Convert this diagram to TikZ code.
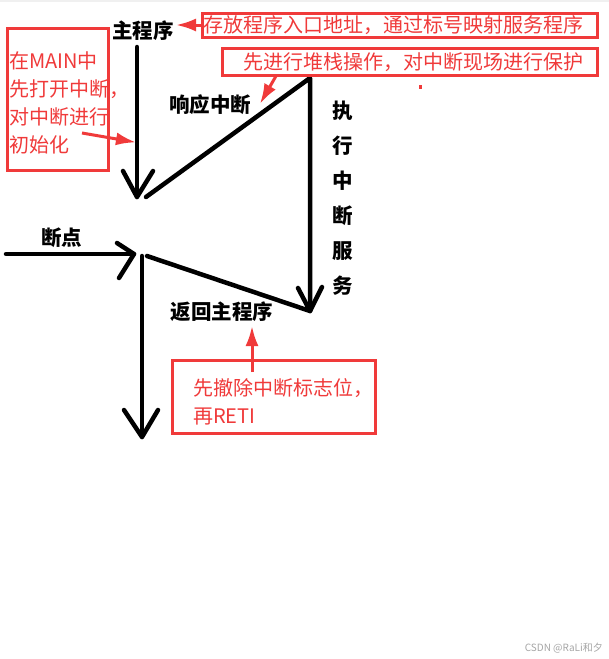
\documentclass[tikz,border=0pt]{standalone}
\usepackage{fontspec}
\setmainfont{Noto Sans CJK SC}
\usetikzlibrary{arrows.meta}
\definecolor{redc}{RGB}{240,58,58}
\tikzset{
  blk/.style={line width=4.5pt, line cap=round, line join=round, black},
  redbox/.style={draw=redc, line width=3pt, fill=none},
  redtxt/.style={text=redc, font=\fontsize{20}{28}\selectfont, inner sep=0pt},
  blktxt/.style={text=black, font=\fontsize{20.5}{24}\selectfont\bfseries, inner sep=0pt},
  redarrow/.style={draw=redc, line width=3pt, -{Latex[length=20pt,width=13pt]}, shorten >=-2pt}
}
\begin{document}
\begin{tikzpicture}[x=1pt,y=-1pt]
\useasboundingbox (0,0) rectangle (609,659);
\fill[white] (0,0) rectangle (609,659);
\fill[black!6] (0,0) rectangle (609,2);

% black labels
\node[blktxt] (zhu) at (143,31) {主程序};
\node[blktxt] (xy) at (210,105) {响应中断};
\node[blktxt] (dd) at (62,238) {断点};
\node[blktxt] (fh) at (222,312) {返回主程序};
\node[blktxt, align=center, font=\fontsize{20.5}{35}\selectfont\bfseries] (zx) at (343,198) {执\\行\\中\\断\\服\\务};

% black drawing points
\coordinate (a1) at (137,47);
\coordinate (a2) at (137,197);
\coordinate (a2l) at (123,171);
\coordinate (a2r) at (153,171);
\coordinate (d1) at (146,197);
\coordinate (t) at (310,78);
\coordinate (b) at (310,311);
\coordinate (bl) at (298,288);
\coordinate (br) at (322,287);
\coordinate (h1) at (6,254);
\coordinate (h2) at (134,254);
\coordinate (hu) at (117,243);
\coordinate (hd) at (119,278);
\coordinate (r1) at (147,256);
\coordinate (v1) at (142,256);
\coordinate (v2) at (142,437);
\coordinate (vl) at (124,410);
\coordinate (vr) at (158,410);

\draw[blk] (a1) -- (a2);
\draw[blk] (a2l) -- (a2) -- (a2r);
\draw[blk] (d1) -- (t) -- (b);
\draw[blk] (bl) -- (b) -- (br);
\draw[blk] (h1) -- (h2);
\draw[blk] (hu) -- (h2) -- (hd);
\draw[blk] (r1) -- (b);
\draw[blk] (v1) -- (v2);
\draw[blk] (vl) -- (v2) -- (vr);

% red boxes
\draw[redbox] (202,13) rectangle (597,37);
\node[redtxt, anchor=west] (t1) at (203,25) {存放程序入口地址，通过标号映射服务程序};
\draw[redbox] (222,48) rectangle (597,75);
\node[redtxt, anchor=west] (t2) at (243,62) {先进行堆栈操作，对中断现场进行保护};
\draw[redbox] (7,28) rectangle (108,170);
\node[redtxt, anchor=north west, align=left] (t3) at (9,51) {在MAIN中\\先打开中断，\\对中断进行\\初始化};
\draw[redbox] (172,360) rectangle (375,433);
\node[redtxt, anchor=north west, align=left] (t4) at (193,378) {先撤除中断标志位，\\再RETI};

% red arrows
\coordinate (e1) at (178,25);
\coordinate (s1) at (202,25);
\draw[redarrow] (s1) -- (e1);
\coordinate (s2) at (276,76);
\coordinate (e2) at (261,102);
\draw[redarrow] (s2) -- (e2);
\coordinate (s3) at (82,133);
\coordinate (e3) at (134,142);
\draw[redarrow] (s3) -- (e3);
\coordinate (s4) at (252,372);
\coordinate (e4) at (252,328);
\draw[redarrow] (s4) -- (e4);

\fill[redc] (419,85) rectangle (422,89);

\node[text=black!35, font=\fontsize{10}{12}\selectfont, inner sep=0pt, anchor=east] (wm) at (603,648) {CSDN @RaLi和夕};
\end{tikzpicture}
\end{document}
